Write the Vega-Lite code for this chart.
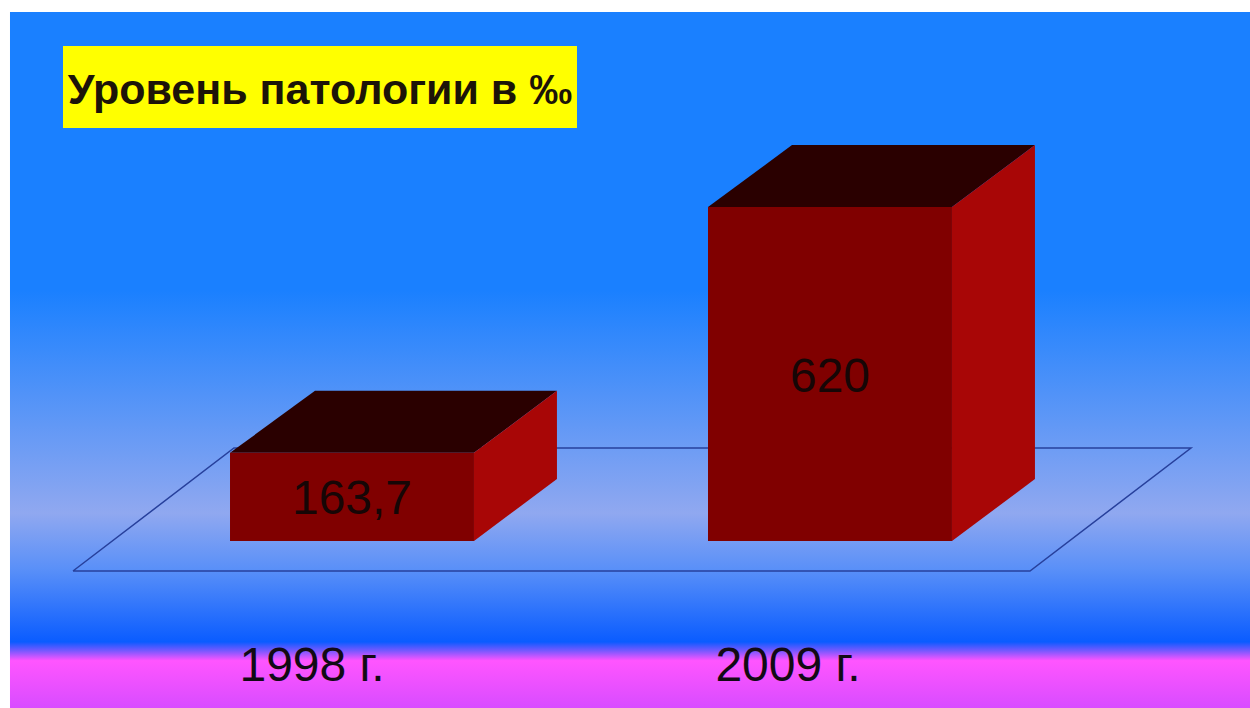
{"$schema":"https://vega.github.io/schema/vega-lite/v6.json","width":1250,"height":708,"autosize":{"type":"fit","contains":"padding"},"padding":0,"background":"#ffffff",
"config":{"view":{"stroke":null}},
"datasets":{
"panel":[{"x":0.2845,"x2":2.8787,"y":982,"y2":-310}],
"plane":[{"x":0.4163,"y":-55.7,"o":1},{"x":2.4184,"y":-55.7,"o":2},{"x":2.7552,"y":172.6,"o":3},{"x":0.7531,"y":172.6,"o":4},{"x":0.4163,"y":-55.7,"o":5}],
"front":[{"year":"1998 г.","x":0.7448,"x2":1.2552,"value":163.7,"base":0,"label":"163,7","mid":75.5,"pos":1},{"year":"2009 г.","x":1.7448,"x2":2.2552,"value":620,"base":0,"label":"620","mid":302.5,"pos":2}],
"top":[{"year":"1998","x":0.7448,"y":163.7,"y2":163.7},{"year":"1998","x":0.9226,"y":278.7,"y2":163.7},{"year":"1998","x":1.2552,"y":278.7,"y2":163.7},{"year":"1998","x":1.4288,"y":278.7,"y2":278.7},{"year":"2009","x":1.7448,"y":620,"y2":620},{"year":"2009","x":1.9205,"y":735,"y2":620},{"year":"2009","x":2.2552,"y":735,"y2":620},{"year":"2009","x":2.4288,"y":735,"y2":735}],
"side":[{"year":"1998","x":1.2552,"y":163.7,"y2":0},{"year":"1998","x":1.4288,"y":278.7,"y2":115},{"year":"2009","x":2.2552,"y":620,"y2":0},{"year":"2009","x":2.4288,"y":735,"y2":115}],
"cat":[{"label":"1998 г.","x":0.9163,"y":-234},{"label":"2009 г.","x":1.9121,"y":-234}],
"title":[{"x":0.3954,"x2":1.4707,"y":918.9,"y2":766.7,"tx":0.9331,"ty":835,"label":"Уровень патологии в ‰"}]
},
"layer":[
{"data":{"name":"panel"},"mark":{"type":"rect","fill":{"gradient":"linear","x1":0,"y1":0,"x2":0,"y2":1,"stops":[{"offset":0,"color":"#1a80ff"},{"offset":0.4,"color":"#1a80ff"},{"offset":0.72,"color":"#90a8f0"},{"offset":0.80,"color":"#5a90f8"},{"offset":0.905,"color":"#0a5cff"},{"offset":0.918,"color":"#7a58ff"},{"offset":0.932,"color":"#ff55ff"},{"offset":1,"color":"#d84cff"}]}},
"encoding":{"x":{"field":"x","type":"quantitative","axis":null,"scale":{"domain":[0.2636,2.8787],"nice":false,"zero":false}},"x2":{"field":"x2"},"y":{"field":"y","type":"quantitative","axis":null,"scale":{"domain":[-310,1004.3],"nice":false,"zero":false}},"y2":{"field":"y2"}}},
{"data":{"name":"plane"},"mark":{"type":"line","stroke":"#27409c","strokeWidth":1.5},
"encoding":{"x":{"field":"x","type":"quantitative","axis":null,"scale":{"domain":[0.2636,2.8787],"nice":false,"zero":false}},"y":{"field":"y","type":"quantitative","axis":null,"scale":{"domain":[-310,1004.3],"nice":false,"zero":false}},"order":{"field":"o","type":"quantitative"}}},
{"data":{"name":"top"},"mark":{"type":"area","fill":"#2a0000","orient":"vertical"},
"encoding":{"x":{"field":"x","type":"quantitative","axis":null,"scale":{"domain":[0.2636,2.8787],"nice":false,"zero":false}},"y":{"field":"y","type":"quantitative","stack":null,"axis":null,"scale":{"domain":[-310,1004.3],"nice":false,"zero":false}},"y2":{"field":"y2"},"detail":{"field":"year"}}},
{"data":{"name":"side"},"mark":{"type":"area","fill":"#a80606","orient":"vertical"},
"encoding":{"x":{"field":"x","type":"quantitative","axis":null,"scale":{"domain":[0.2636,2.8787],"nice":false,"zero":false}},"y":{"field":"y","type":"quantitative","stack":null,"axis":null,"scale":{"domain":[-310,1004.3],"nice":false,"zero":false}},"y2":{"field":"y2"},"detail":{"field":"year"}}},
{"data":{"name":"front"},"mark":{"type":"rect","fill":"#800000"},
"encoding":{"x":{"field":"x","type":"quantitative","axis":null,"scale":{"domain":[0.2636,2.8787],"nice":false,"zero":false}},"x2":{"field":"x2"},"y":{"field":"value","type":"quantitative","axis":null,"scale":{"domain":[-310,1004.3],"nice":false,"zero":false}},"y2":{"field":"base"}}},
{"data":{"name":"front"},"mark":{"type":"text","font":"Liberation Sans","fontSize":48,"color":"#160606","align":"center","baseline":"middle"},
"encoding":{"x":{"field":"pos","type":"quantitative","axis":null,"scale":{"domain":[0.2636,2.8787],"nice":false,"zero":false}},"y":{"field":"mid","type":"quantitative","axis":null,"scale":{"domain":[-310,1004.3],"nice":false,"zero":false}},"text":{"field":"label"}}},
{"data":{"name":"cat"},"mark":{"type":"text","font":"Liberation Sans","fontSize":48,"color":"#120a14","align":"center","baseline":"middle"},
"encoding":{"x":{"field":"x","type":"quantitative","axis":null,"scale":{"domain":[0.2636,2.8787],"nice":false,"zero":false}},"y":{"field":"y","type":"quantitative","axis":null,"scale":{"domain":[-310,1004.3],"nice":false,"zero":false}},"text":{"field":"label"}}},
{"data":{"name":"title"},"mark":{"type":"rect","fill":"#ffff00"},
"encoding":{"x":{"field":"x","type":"quantitative","axis":null,"scale":{"domain":[0.2636,2.8787],"nice":false,"zero":false}},"x2":{"field":"x2"},"y":{"field":"y","type":"quantitative","axis":null,"scale":{"domain":[-310,1004.3],"nice":false,"zero":false}},"y2":{"field":"y2"}}},
{"data":{"name":"title"},"mark":{"type":"text","font":"Liberation Sans","fontWeight":"bold","fontSize":43,"color":"#1c1408","align":"center","baseline":"middle"},
"encoding":{"x":{"field":"tx","type":"quantitative","axis":null,"scale":{"domain":[0.2636,2.8787],"nice":false,"zero":false}},"y":{"field":"ty","type":"quantitative","axis":null,"scale":{"domain":[-310,1004.3],"nice":false,"zero":false}},"text":{"field":"label"}}}
]}
